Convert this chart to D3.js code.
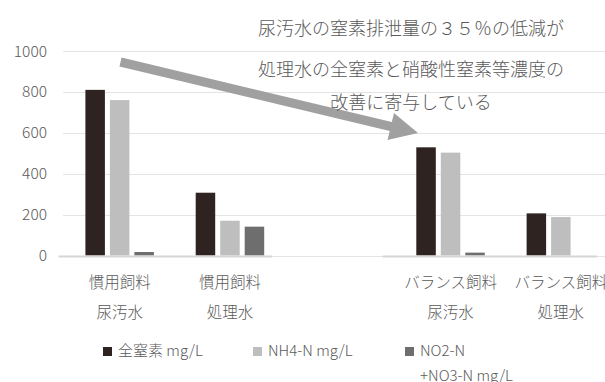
<!DOCTYPE html>
<html>
<head>
<meta charset="utf-8">
<script src="https://cdn.jsdelivr.net/npm/d3@7"></script>
<style>
  html, body { margin: 0; padding: 0; background: #fff; }
  svg { display: block; }
  text { font-family: "Noto Sans CJK JP", "Noto Sans", sans-serif; fill: #595959; font-weight: 300; }
</style>
</head>
<body>
<svg id="chart" width="605" height="382"></svg>
<script>
// data
const categories = ['c1', 'c2', 'gap', 'c3', 'c4'];
const catLine1 = ['慣用飼料', '慣用飼料', '', 'バランス飼料', 'バランス飼料'];
const catLine2 = ['尿汚水', '処理水', '', '尿汚水', '処理水'];

const seriesNames = ['全窒素 mg/L', 'NH4-N mg/L', 'NO2-N+NO3-N mg/L'];
const totalN = [810, 307, null, 529, 206];
const nh4N   = [760, 170, null, 503, 188];
const no3N   = [17, 141, null, 14, null];

const yTicks = [0, 200, 400, 600, 800, 1000];
const noteLines = ['尿汚水の窒素排泄量の３５％の低減が', '処理水の全窒素と硝酸性窒素等濃度の', '改善に寄与している'];

const COLORS = ['#2e2320', '#bdbebd', '#6e6e6e'];

const W = 605, H = 382;
const svg = d3.select('#chart');

const x0 = d3.scaleBand().domain(categories).range([64.5, 616]);
const x1 = d3.scaleBand().domain(d3.range(3)).range([0, 68.5]).paddingInner(0.204);
const y = d3.scaleLinear().domain([0, 1000]).range([255.5, 51]);

// gridlines
svg.append('g').selectAll('line').data(yTicks).join('line')
  .attr('x1', 63).attr('x2', W)
  .attr('y1', d => Math.round(y(d)) + 0.5).attr('y2', d => Math.round(y(d)) + 0.5)
  .attr('stroke', '#e4e4e4').attr('stroke-width', 1);

// y tick labels
svg.append('g').selectAll('text').data(yTicks).join('text')
  .attr('x', 47).attr('y', d => y(d)).attr('dy', '0.36em')
  .attr('text-anchor', 'end')
  .attr('font-family', '"Open Sans", "Noto Sans", sans-serif')
  .attr('font-size', 15.5)
  .text(d => d);

// bars
const series = [totalN, nh4N, no3N];
series.forEach((vals, si) => {
  svg.append('g').selectAll('rect')
    .data(vals.map((v, i) => ({ v, cat: categories[i] })).filter(d => d.v != null && d.v > 0))
    .join('rect')
    .attr('x', d => x0(d.cat) + x0.bandwidth() / 2 - 34.25 + x1(si))
    .attr('width', x1.bandwidth())
    .attr('y', d => y(d.v))
    .attr('height', d => y(0) - y(d.v))
    .attr('fill', COLORS[si]);
});

// axis line (two pieces, broken at the empty category)
const half = x0.bandwidth() / 2;
const axisSegs = [
  [x0('c1') - 6, x0('c2') + half + 42],
  [x0('c3') + half - 68, x0('c4') + half + 36]
];
svg.append('g').selectAll('line').data(axisSegs).join('line')
  .attr('x1', d => d[0]).attr('x2', d => d[1])
  .attr('y1', 256.5).attr('y2', 256.5)
  .attr('stroke', '#d6d6d6').attr('stroke-width', 2);

// category labels
const catG = svg.append('g');
categories.forEach((c, i) => {
  const cx = x0(c) + half;
  catG.append('text').attr('x', cx).attr('y', 282).attr('dy', '0.36em')
    .attr('text-anchor', 'middle').attr('font-size', 15.5).text(catLine1[i]);
  catG.append('text').attr('x', cx).attr('y', 312).attr('dy', '0.36em')
    .attr('text-anchor', 'middle').attr('font-size', 15.5).text(catLine2[i]);
});

// legend
const legX = [103, 253, 405];
const leg = svg.append('g');
seriesNames.forEach((name, i) => {
  leg.append('rect').attr('x', legX[i]).attr('y', 347).attr('width', 9).attr('height', 9)
    .attr('fill', COLORS[i]);
  if (i < 2) {
    leg.append('text').attr('x', legX[i] + 15).attr('y', 351).attr('dy', '0.36em')
      .attr('font-size', 15).text(name);
  } else {
    leg.append('text').attr('x', legX[i] + 15).attr('y', 351).attr('dy', '0.36em')
      .attr('font-size', 15).text('NO2-N');
    leg.append('text').attr('x', legX[i] + 15).attr('y', 376).attr('dy', '0.36em')
      .attr('font-size', 15).text('+NO3-N mg/L');
  }
});

// annotation arrow
const p0 = [120.5, 62], tip = [418, 133];
const len = Math.hypot(tip[0] - p0[0], tip[1] - p0[1]);
const u = [(tip[0] - p0[0]) / len, (tip[1] - p0[1]) / len];
const n = [-u[1], u[0]];
const headL = 28, headW = 14, shaftW = 4.5;
const b = [tip[0] - headL * u[0], tip[1] - headL * u[1]];
const pts = [
  [p0[0] + shaftW * n[0], p0[1] + shaftW * n[1]],
  [b[0] + shaftW * n[0], b[1] + shaftW * n[1]],
  [b[0] + headW * n[0], b[1] + headW * n[1]],
  tip,
  [b[0] - headW * n[0], b[1] - headW * n[1]],
  [b[0] - shaftW * n[0], b[1] - shaftW * n[1]],
  [p0[0] - shaftW * n[0], p0[1] - shaftW * n[1]]
];
svg.append('path').attr('d', d3.line()(pts) + 'Z').attr('fill', '#a0a0a0');

// annotation text
const noteY = [29, 70, 103];
svg.append('g').selectAll('text').data(noteLines).join('text')
  .attr('x', 411).attr('y', (d, i) => noteY[i]).attr('dy', '0.36em')
  .attr('text-anchor', 'middle').attr('font-size', 18)
  .text(d => d);
</script>
</body>
</html>
